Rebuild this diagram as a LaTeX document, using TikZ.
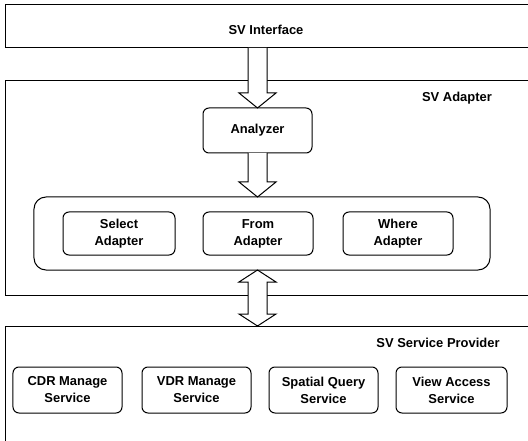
\documentclass[tikz,border=0pt]{standalone}
\usepackage{fontspec}
\setmainfont{Liberation Sans}
\usetikzlibrary{calc}
\begin{document}
\begin{tikzpicture}[x=1bp,y=-1bp,
  layer/.style={draw, line width=1bp, inner sep=0, outer sep=0, anchor=north west},
  rbox/.style={draw, line width=1bp, rounded corners=6bp, inner sep=0, outer sep=0, align=center,
    font=\bfseries\fontsize{13}{17}\selectfont},
  lbl/.style={font=\bfseries\fontsize{13}{15}\selectfont, inner sep=0},
  fat/.style={draw, line width=1bp, fill=white, line join=miter}]
\useasboundingbox (0,0) rectangle (528,441);
\clip (0,0) rectangle (528,441);
\newcommand\fatdown[2]{\draw[fat] let \p1=(#1), \p2=(#2) in
  (\x2-9.5bp,\y1) -- (\x2-9.5bp,\y2+15bp) -- (\x2-18.5bp,\y2+15bp) -- (\x2,\y2)
  -- (\x2+18.5bp,\y2+15bp) -- (\x2+9.5bp,\y2+15bp) -- (\x2+9.5bp,\y1);}
\newcommand\fatboth[2]{\draw[fat] let \p1=(#1), \p2=(#2) in
  (\x1,\y1) -- (\x1+18.5bp,\y1-12bp) -- (\x1+9.5bp,\y1-12bp) -- (\x1+9.5bp,\y2+12bp)
  -- (\x1+18.5bp,\y2+12bp) -- (\x1,\y2) -- (\x1-18.5bp,\y2+12bp) -- (\x1-9.5bp,\y2+12bp)
  -- (\x1-9.5bp,\y1-12bp) -- (\x1-18.5bp,\y1-12bp) -- cycle;}

% layers
\node[layer, minimum width=600bp, minimum height=43bp] (iface) at (5,5) {};
\node[layer, minimum width=600bp, minimum height=214bp] (adapter) at (5,81) {};
\node[layer, minimum width=600bp, minimum height=200bp] (srv) at (5,326) {};

\node[lbl] (ifacelbl) at (266,30) {SV Interface};
\node[lbl] (adlbl) at (457,98) {SV Adapter};
\node[lbl] (srvlbl) at (438,343) {SV Service Provider};

% adapter contents
\node[rbox, minimum width=109bp, minimum height=45bp] (analyzer) at (257.5,130.5) {Analyzer};
\node[rbox, rounded corners=12bp, minimum width=456bp, minimum height=73bp] (big) at (262,233.5) {};
\node[rbox, minimum width=112bp, minimum height=43bp] (select) at (119,233.5) {Select\\Adapter};
\node[rbox, minimum width=110bp, minimum height=43bp] (from) at (258,233.5) {From\\Adapter};
\node[rbox, minimum width=110bp, minimum height=43bp] (where) at (398,233.5) {Where\\Adapter};

% services
\node[rbox, minimum width=109bp, minimum height=46bp] (cdr) at (67.5,390) {CDR Manage\\Service};
\node[rbox, minimum width=109bp, minimum height=46bp] (vdr) at (196.5,390) {VDR Manage\\Service};
\node[rbox, minimum width=109bp, minimum height=46bp] (spatial) at (323.5,390) {Spatial Query\\Service};
\node[rbox, minimum width=111bp, minimum height=46bp] (view) at (451.5,390) {View Access\\Service};

% arrows
\fatdown{analyzer.north |- iface.south}{analyzer.north}
\fatdown{analyzer.south}{analyzer.south |- big.north}
\fatboth{analyzer.south |- big.south}{analyzer.south |- srv.north}
\end{tikzpicture}
\end{document}
